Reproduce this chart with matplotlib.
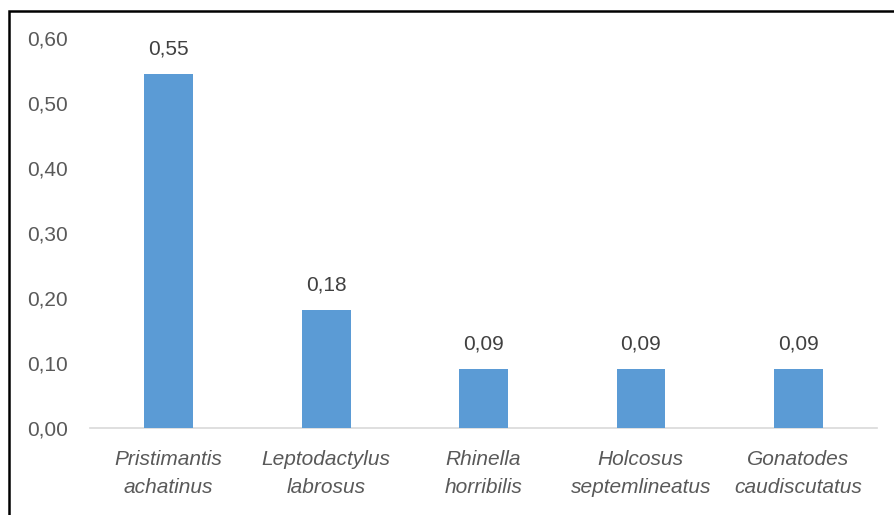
import matplotlib.pyplot as plt
from matplotlib.patches import Rectangle

# data
species = ["Pristimantis\nachatinus", "Leptodactylus\nlabrosus", "Rhinella\nhorribilis",
           "Holcosus\nseptemlineatus", "Gonatodes\ncaudiscutatus"]
values = [0.545, 0.182, 0.091, 0.091, 0.091]
yticks = [0.0, 0.1, 0.2, 0.3, 0.4, 0.5, 0.6]

plt.rcParams['font.family'] = ['Liberation Sans', 'DejaVu Sans']
grey = '#595959'

fig = plt.figure(figsize=(8.94, 5.15), dpi=100)
ax = fig.add_axes([0.1007, 0.169, 0.8803, 0.757])

x = range(len(species))
bars = ax.bar(x, values, width=0.31, color='#5B9BD5', zorder=3)
for xi, v in zip(x, values):
    ax.annotate(f"{v:.2f}".replace('.', ','), (xi, v), xytext=(0, 11),
                textcoords='offset points', ha='center', va='bottom',
                fontsize=15, color='#404040')

ax.set_xlim(-0.5, len(species) - 0.5)
ax.set_ylim(0, 0.6)
ax.set_yticks(yticks)
ax.set_yticklabels([f"{t:.2f}".replace('.', ',') for t in yticks])
ax.set_xticks(list(x))
ax.set_xticklabels(species, fontstyle='italic', linespacing=1.6)
ax.tick_params(axis='both', length=0, labelsize=15, labelcolor=grey)
ax.tick_params(axis='y', pad=16)
ax.tick_params(axis='x', pad=16)

for s in ['top', 'right', 'left']:
    ax.spines[s].set_visible(False)
ax.spines['bottom'].set_color('#d9d9d9')
ax.spines['bottom'].set_linewidth(1.2)

# outer frame of the chart area
fig.add_artist(Rectangle((8.5 / 894, -0.1), 1.0, 1 - 10.5 / 515 + 0.1,
                         transform=fig.transFigure, fill=False,
                         edgecolor='black', linewidth=1.8, clip_on=False))

fig.savefig('out.png', dpi=100)
